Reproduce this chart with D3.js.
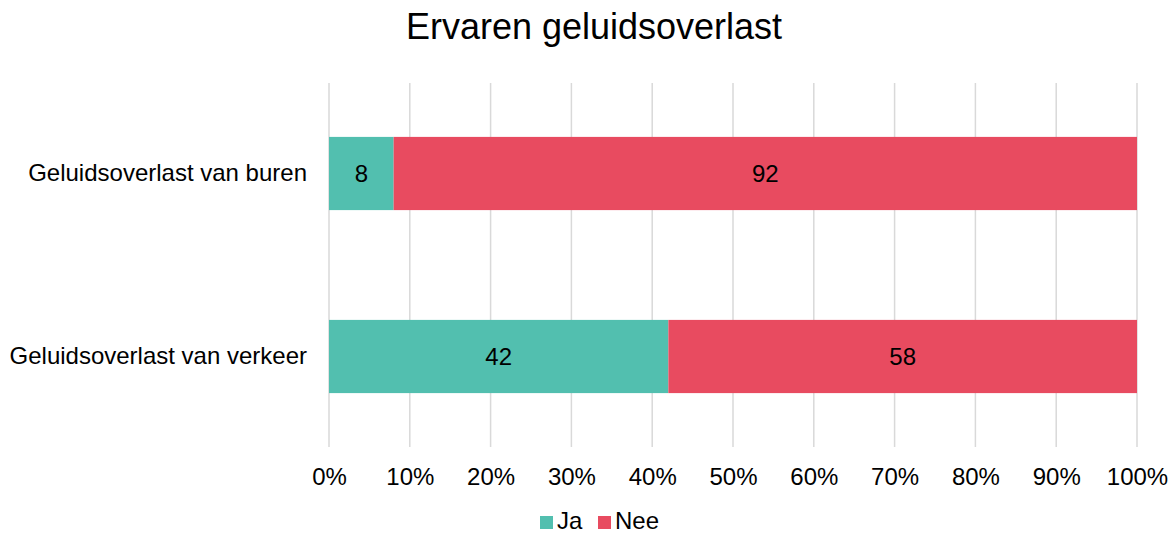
<!DOCTYPE html>
<html>
<head>
<meta charset="utf-8">
<script src="https://cdn.jsdelivr.net/npm/d3@7"></script>
<style>
	body { margin: 0; background: #fff; }
	text { font-family: "Liberation Sans", Arial, sans-serif; fill: #000; }
</style>
</head>
<body>
<div id="chart"></div>
<script>
	const categories = ["Geluidsoverlast van buren", "Geluidsoverlast van verkeer"];
	const seriesNames = ["Ja", "Nee"];
	const ja = [8, 42];
	const nee = [92, 58];
	const ticks = [0, 10, 20, 30, 40, 50, 60, 70, 80, 90, 100];

	const
		WIDTH = 1170, HEIGHT = 535,
		LEFT = 329, RIGHT = 1137,
		TOP = 83, BOTTOM = 447,
		FONT = "24px",
		color = ["#52bfaf", "#e84b60"];

	var svg = d3.select("#chart")
		.append("svg")
		.attr("width", WIDTH)
		.attr("height", HEIGHT);

	var x = d3.scaleLinear().domain([0, 100]).range([LEFT, RIGHT]);
	var y = d3.scaleBand().domain(categories).range([82, 448]).paddingInner(0.6).paddingOuter(0.3);

	// gridlines
	svg.append("g")
		.selectAll("line")
		.data(ticks)
		.enter()
		.append("line")
		.attr("x1", d => x(d)).attr("x2", d => x(d))
		.attr("y1", TOP).attr("y2", BOTTOM)
		.attr("stroke", "#d9d9d9")
		.attr("stroke-width", 1.5);

	// x axis labels
	var xAxis = d3.axisBottom(x).tickValues(ticks).tickFormat(d => d + "%").tickSize(0).tickPadding(0);
	var gx = svg.append("g")
		.attr("transform", "translate(0," + (BOTTOM + 38) + ")")
		.call(xAxis);
	gx.select(".domain").remove();
	gx.selectAll("text").style("font-size", FONT).attr("dy", "0");

	// y axis labels
	var yAxis = d3.axisLeft(y).tickSize(0).tickPadding(22);
	var gy = svg.append("g")
		.attr("transform", "translate(" + LEFT + ",0)")
		.call(yAxis);
	gy.select(".domain").remove();
	gy.selectAll("text").style("font-size", FONT);

	// stacked data
	var rows = categories.map((c, i) => ({cat: c, Ja: ja[i], Nee: nee[i]}));
	var stack = d3.stack().keys(seriesNames)(rows);

	var layers = svg.append("g")
		.selectAll("g")
		.data(stack)
		.enter()
		.append("g")
		.attr("fill", (d, i) => color[i]);

	layers.selectAll("rect")
		.data(d => d)
		.enter()
		.append("rect")
		.attr("x", d => x(d[0]))
		.attr("y", d => y(d.data.cat))
		.attr("width", d => x(d[1]) - x(d[0]))
		.attr("height", y.bandwidth());

	layers.selectAll("text")
		.data(d => d)
		.enter()
		.append("text")
		.attr("x", d => (x(d[0]) + x(d[1])) / 2)
		.attr("y", d => y(d.data.cat) + y.bandwidth() / 2)
		.attr("dy", "0.35em")
		.attr("text-anchor", "middle")
		.style("font-size", FONT)
		.text(d => d[1] - d[0]);

	// title
	svg.append("text")
		.attr("x", 594)
		.attr("y", 39)
		.attr("text-anchor", "middle")
		.style("font-size", "36px")
		.text("Ervaren geluidsoverlast");

	// legend
	var legend = svg.append("g").attr("transform", "translate(540,516)");
	var offsets = [0, 58];
	seriesNames.forEach((name, i) => {
		legend.append("rect")
			.attr("x", offsets[i]).attr("y", 0)
			.attr("width", 13).attr("height", 13)
			.attr("fill", color[i]);
		legend.append("text")
			.attr("x", offsets[i] + 17)
			.attr("y", 13)
			.style("font-size", FONT)
			.text(name);
	});
</script>
</body>
</html>
